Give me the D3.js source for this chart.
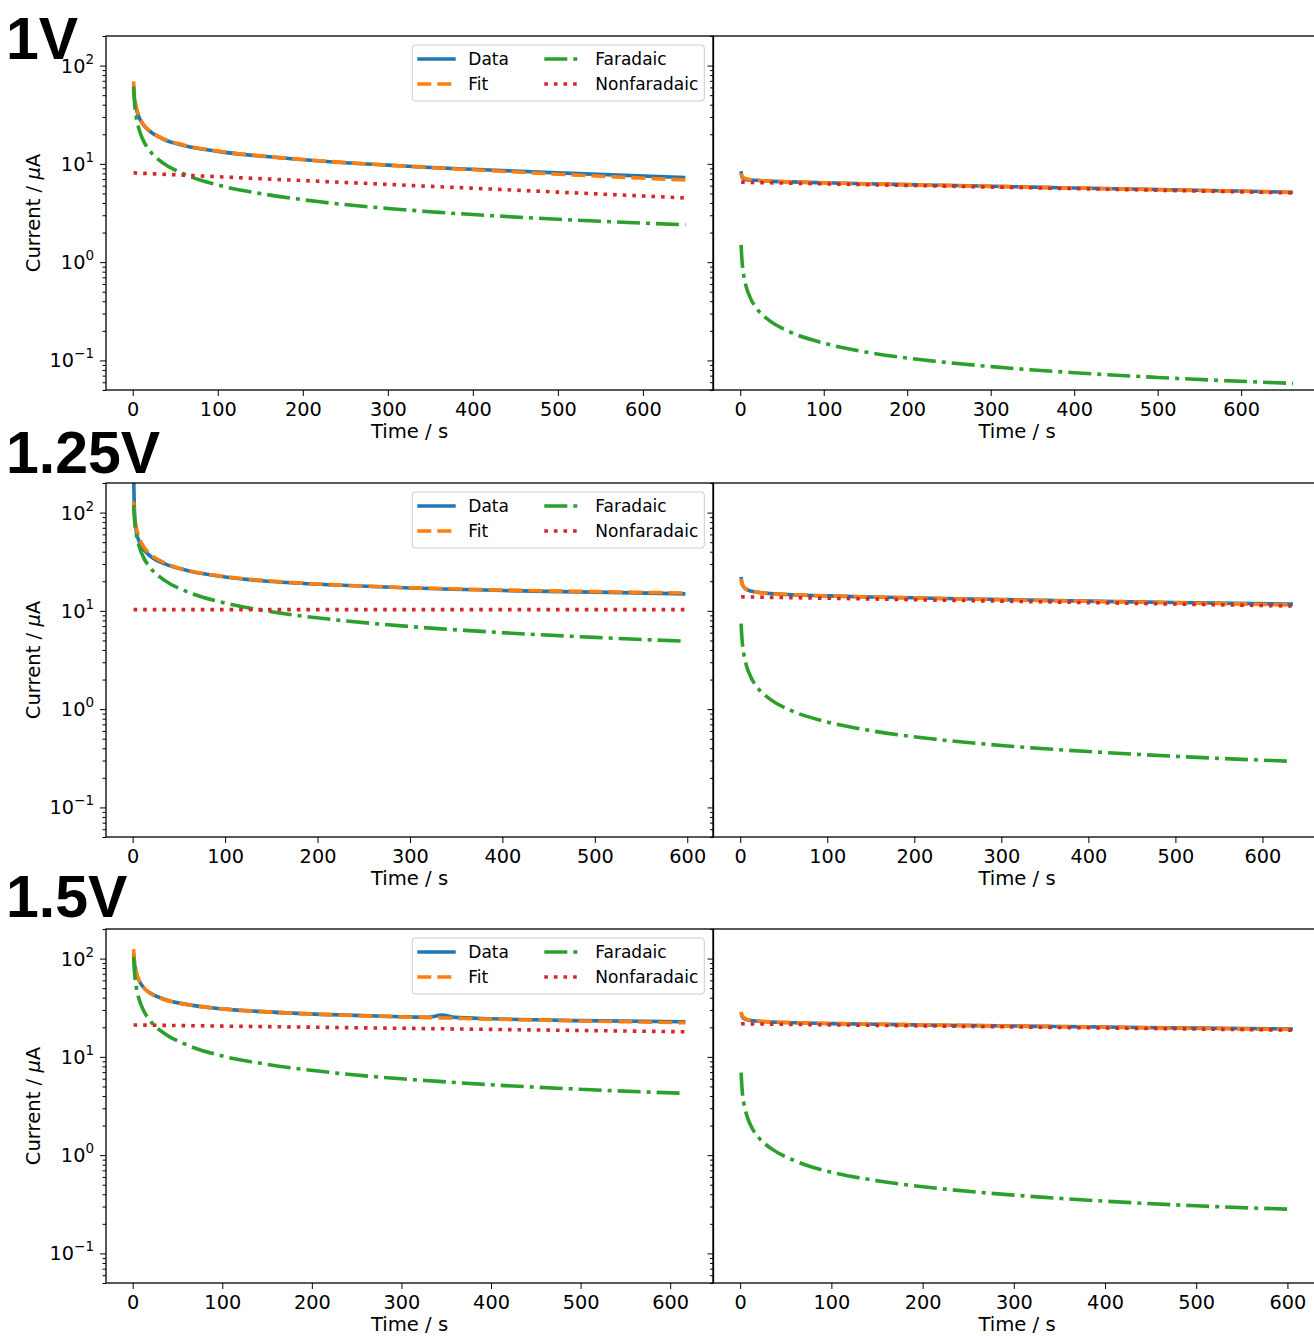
<!DOCTYPE html>
<html>
<head>
<meta charset="utf-8">
<script src="https://cdn.jsdelivr.net/npm/d3@7"></script>
<style>
  body { margin: 0; background: #fff; }
  svg { display: block; font-family: "DejaVu Sans", sans-serif; }
</style>
</head>
<body>
<svg id="chart" width="1314" height="1337"></svg>
<script>
// sample times in s (every trace uses these, plus its own end time)
const times = [1, 2, 4, 7, 12, 20, 35, 60, 100, 150, 220, 300, 330, 345, 360, 400, 500];

// 1V
const end1L = 650;
const data1L = [60, 47, 37, 30.5, 25.3, 21.5, 18.0, 15.4, 13.4, 12.0, 10.7, 9.7, 9.4, 9.25, 9.1, 8.8, 8.1, 7.25];
const fit1L = [69, 51, 38.6, 31.2, 25.6, 21.6, 18.2, 15.6, 13.5, 12.1, 10.75, 9.7, 9.37, 9.21, 9.06, 8.7, 7.85, 6.85];
const far1L = [61, 43.1, 30.5, 23.1, 17.6, 13.6, 10.3, 7.9, 6.1, 5.0, 4.11, 3.52, 3.36, 3.28, 3.21, 3.05, 2.73, 2.40];
const nonf1L = [8.09, 8.09, 8.07, 8.05, 8.01, 7.95, 7.85, 7.67, 7.40, 7.07, 6.64, 6.18, 6.01, 5.93, 5.85, 5.65, 5.16, 4.5];

const end1R = 662;
const data1R = [8.4, 7.4, 7.0, 6.9, 6.85, 6.8, 6.68, 6.56, 6.42, 6.27, 6.1, 5.92, 5.85, 5.81, 5.77, 5.69, 5.48, 5.15];
const fit1R = [8.0, 7.56, 7.24, 7.05, 6.91, 6.79, 6.67, 6.55, 6.41, 6.26, 6.09, 5.90, 5.83, 5.80, 5.76, 5.68, 5.46, 5.13];
const far1R = [1.50, 1.06, 0.75, 0.567, 0.433, 0.335, 0.254, 0.194, 0.150, 0.122, 0.101, 0.0866, 0.0825, 0.0808, 0.0791, 0.075, 0.0671, 0.0583];
const nonf1R = [6.5, 6.5, 6.49, 6.48, 6.47, 6.45, 6.42, 6.36, 6.26, 6.14, 5.99, 5.81, 5.75, 5.72, 5.68, 5.60, 5.39, 5.07];

// 1.25V
const end2L = 598;
const data2L = [260, 100, 64, 51, 42, 35.5, 30, 25.6, 22.1, 19.9, 18.3, 17.1, 16.8, 16.6, 16.5, 16.1, 15.5, 14.9];
const fit2L = [130.3, 95.2, 70.3, 55.7, 44.9, 37.1, 30.6, 25.8, 22.3, 20.1, 18.4, 17.2, 16.9, 16.8, 16.6, 16.3, 15.7, 15.2];
const far2L = [120, 84.9, 60, 45.4, 34.6, 26.8, 20.3, 15.5, 12.0, 9.8, 8.09, 6.93, 6.60, 6.46, 6.33, 6.0, 5.37, 4.91];
const nonf2L = [10.3, 10.3, 10.3, 10.3, 10.3, 10.3, 10.3, 10.3, 10.3, 10.3, 10.3, 10.3, 10.3, 10.3, 10.3, 10.3, 10.3, 10.3];

const end2R = 635;
const data2R = [22.2, 19.0, 17.5, 16.6, 15.95, 15.45, 15.0, 14.6, 14.2, 13.85, 13.45, 13.05, 12.9, 12.82, 12.75, 12.57, 12.15, 11.7];
const fit2R = [21.3, 19.13, 17.59, 16.67, 15.98, 15.46, 14.98, 14.58, 14.18, 13.81, 13.40, 12.98, 12.84, 12.76, 12.69, 12.50, 12.06, 11.49];
const far2R = [7.4, 5.23, 3.7, 2.80, 2.14, 1.65, 1.25, 0.955, 0.74, 0.604, 0.499, 0.427, 0.407, 0.398, 0.39, 0.37, 0.331, 0.294];
const nonf2R = [13.9, 13.9, 13.89, 13.87, 13.84, 13.81, 13.73, 13.62, 13.44, 13.21, 12.90, 12.55, 12.43, 12.36, 12.30, 12.13, 11.73, 11.2];

// 1.5V
const end3L = 617;
const data3L = [112, 90, 72, 60, 51, 44.3, 38.6, 34.2, 30.8, 28.7, 26.9, 25.6, 25.3, 26.6, 25.2, 24.4, 23.4, 22.8];
const fit3L = [125.1, 94.1, 72.6, 60.1, 50.8, 44.0, 38.3, 34.1, 30.8, 28.7, 26.9, 25.5, 25.1, 24.9, 24.7, 24.2, 23.2, 22.25];
const far3L = [104, 73, 51.5, 39, 29.8, 23, 17.4, 13.3, 10.2, 8.4, 6.95, 5.98, 5.72, 5.6, 5.48, 5.2, 4.68, 4.25];
const nonf3L = [21.1, 21.1, 21.08, 21.06, 21.04, 20.99, 20.91, 20.78, 20.56, 20.3, 19.94, 19.53, 19.38, 19.31, 19.23, 19.03, 18.55, 18.0];

const end3R = 606;
const data3R = [28.5, 26.0, 24.6, 23.9, 23.4, 23.0, 22.6, 22.2, 21.8, 21.45, 21.0, 20.6, 20.45, 20.38, 20.3, 20.1, 19.65, 19.2];
const fit3R = [28.6, 26.5, 25.1, 24.25, 23.6, 23.1, 22.65, 22.25, 21.84, 21.47, 21.02, 20.55, 20.38, 20.31, 20.22, 20.01, 19.5, 18.98];
const far3R = [6.9, 4.8, 3.4, 2.58, 1.97, 1.52, 1.15, 0.875, 0.67, 0.55, 0.456, 0.392, 0.374, 0.366, 0.358, 0.34, 0.305, 0.281];
const nonf3R = [21.7, 21.7, 21.68, 21.67, 21.64, 21.6, 21.51, 21.38, 21.17, 20.92, 20.56, 20.16, 20.01, 19.94, 19.86, 19.67, 19.19, 18.7];

const rowLabels = ['1V', '1.25V', '1.5V'];
const xTicks = [0, 100, 200, 300, 400, 500, 600];
const yMajor = [0.1, 1, 10, 100];
const yExp = ['\u22121', '0', '1', '2'];
const seriesNames = ['Data', 'Fit', 'Faradaic', 'Nonfaradaic'];

// layout
const W = 607, H = 354;
const colX = [106, 713.5];
const rowY = [36, 483, 929];
const titleY = [59.3, 473.3, 916.7];
const LW = 3.6;

// line styles, same order as seriesNames
const styles = [
    { color: '#1f77b4', dash: null },
    { color: '#ff7f0e', dash: '14,6' },
    { color: '#2ca02c', dash: '23,6,4,6' },
    { color: '#d62728', dash: '3.6,6' }
];

const panels = [
    { row: 0, col: 0, end: end1L, series: [data1L, fit1L, far1L, nonf1L] },
    { row: 0, col: 1, end: end1R, series: [data1R, fit1R, far1R, nonf1R] },
    { row: 1, col: 0, end: end2L, series: [data2L, fit2L, far2L, nonf2L] },
    { row: 1, col: 1, end: end2R, series: [data2R, fit2R, far2R, nonf2R] },
    { row: 2, col: 0, end: end3L, series: [data3L, fit3L, far3L, nonf3L] },
    { row: 2, col: 1, end: end3R, series: [data3R, fit3R, far3R, nonf3R] }
];

const svg = d3.select('#chart');

// minor ticks of the log axis: 2..9 times each decade inside the domain
const yMinor = [];
[0.01, 0.1, 1, 10, 100].forEach(dec => {
    for (let k = 2; k <= 9; k++) {
        const v = k * dec;
        if (v >= 0.05 && v <= 200) yMinor.push(v);
    }
});

panels.forEach((p, i) => {
    const x0 = colX[p.col], y0 = rowY[p.row];
    const t = times.concat(p.end);
    const pad = 0.05 * (p.end - t[0]);

    const x = d3.scaleLinear().domain([t[0] - pad, p.end + pad]).range([x0, x0 + W]);
    const y = d3.scaleLog().domain([0.05, 200]).range([y0 + H, y0]);

    const g = svg.append('g');

    g.append('clipPath').attr('id', 'clip' + i)
        .append('rect').attr('x', x0).attr('y', y0).attr('width', W).attr('height', H);

    const line = d3.line()
        .x((d, j) => x(t[j]))
        .y(d => y(d))
        .curve(d3.curveMonotoneX);

    // curves
    g.append('g').attr('clip-path', `url(#clip${i})`)
        .selectAll('path')
        .data(p.series)
        .enter().append('path')
        .attr('d', d => line(d))
        .attr('fill', 'none')
        .attr('stroke', (d, j) => styles[j].color)
        .attr('stroke-width', LW)
        .attr('stroke-dasharray', (d, j) => styles[j].dash);

    // x axis
    const xa = g.append('g')
        .attr('transform', `translate(0,${y0 + H})`)
        .call(d3.axisBottom(x).tickValues(xTicks).tickSize(6).tickPadding(6).tickFormat(d3.format('d')));
    xa.select('.domain').remove();
    xa.selectAll('text').attr('font-size', 19.3).attr('font-family', 'DejaVu Sans').attr('fill', '#000');

    g.append('text')
        .attr('x', x0 + W / 2)
        .attr('y', y0 + H + 48)
        .attr('text-anchor', 'middle')
        .attr('font-size', 19.6)
        .text('Time / s');

    // y axis (major + minor ticks)
    const ya = g.append('g')
        .attr('transform', `translate(${x0},0)`)
        .call(d3.axisLeft(y).tickValues(yMajor).tickSize(6).tickFormat(''));
    ya.select('.domain').remove();
    const ym = g.append('g')
        .attr('transform', `translate(${x0},0)`)
        .call(d3.axisLeft(y).tickValues(yMinor).tickSize(3.5).tickFormat(''));
    ym.select('.domain').remove();

    if (p.col === 0) {
        // tick labels written as 10 with a superscript exponent
        const lab = g.append('g').selectAll('text')
            .data(yMajor)
            .enter().append('text')
            .attr('x', x0 - 12)
            .attr('y', d => y(d) + 7)
            .attr('text-anchor', 'end')
            .attr('font-size', 19.3);
        lab.append('tspan').text('10');
        lab.append('tspan')
            .attr('dy', -9)
            .attr('font-size', 13.5)
            .text((d, j) => yExp[j]);

        const yl = g.append('text')
            .attr('transform', `translate(40,${y0 + H / 2}) rotate(-90)`)
            .attr('text-anchor', 'middle')
            .attr('font-size', 19.6);
        yl.append('tspan').text('Current / ');
        yl.append('tspan').attr('font-style', 'italic').text('\u03bc');
        yl.append('tspan').text('A');

        // legend
        const lg = g.append('g').attr('transform', `translate(${x0 + 306.3},${y0 + 9})`);
        lg.append('rect')
            .attr('width', 292).attr('height', 56).attr('rx', 3)
            .attr('fill', '#fff').attr('fill-opacity', 0.8)
            .attr('stroke', '#cccccc').attr('stroke-width', 1);
        const item = lg.selectAll('g.item')
            .data(seriesNames)
            .enter().append('g')
            .attr('transform', (d, j) => `translate(${j < 2 ? 5 : 132},${j % 2 === 0 ? 14 : 39})`);
        item.append('line')
            .attr('x1', 0).attr('x2', 38.4)
            .attr('stroke', (d, j) => styles[j].color)
            .attr('stroke-width', LW)
            .attr('stroke-dasharray', (d, j) => styles[j].dash);
        item.append('text')
            .attr('x', 51)
            .attr('y', 6.3)
            .attr('font-size', 17)
            .text(d => d);
    }

    // spines
    g.append('rect')
        .attr('x', x0).attr('y', y0).attr('width', W).attr('height', H)
        .attr('fill', 'none').attr('stroke', '#000').attr('stroke-width', 1.3);

    svg.selectAll('.tick line').attr('stroke', '#000');
});

// row titles
svg.selectAll('text.rowtitle')
    .data(rowLabels)
    .enter().append('text')
    .attr('class', 'rowtitle')
    .attr('x', 6)
    .attr('y', (d, i) => titleY[i])
    .attr('font-family', '"Liberation Sans", Arial, sans-serif')
    .attr('font-weight', 'bold')
    .attr('font-size', 59)
    .text(d => d);
</script>
</body>
</html>
